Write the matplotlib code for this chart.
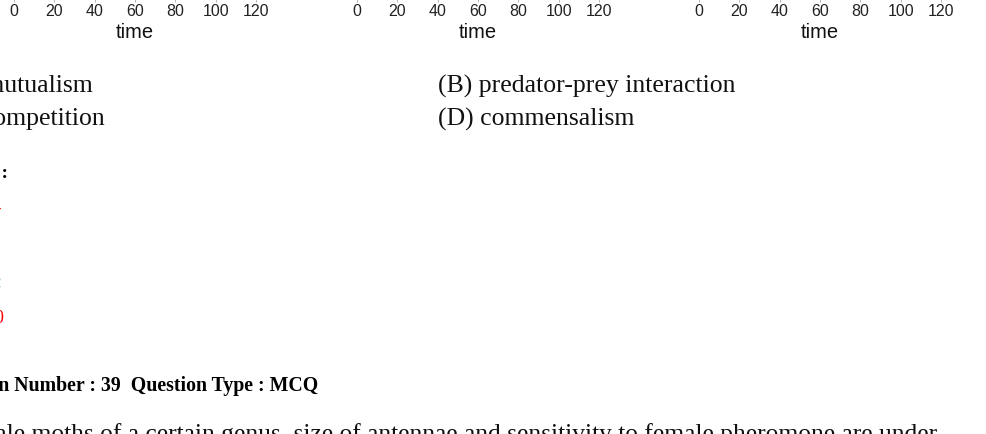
import matplotlib
matplotlib.use("Agg")
import matplotlib.pyplot as plt

# the three time-course panels (only their x axes show in this crop)
time_ticks = [0, 20, 40, 60, 80, 100, 120]
time_lim = (0, 120)
panel_left_px = [14, 357, 699]
panel_width_px = 242
xlabel = "time"

options_left = ["(A) mutualism", "(C) competition"]
options_right = ["(B) predator-prey interaction", "(D) commensalism"]
question_header = "Question Number : 39  Question Type : MCQ"
question_text = ("In male moths of a certain genus, size of antennae and sensitivity "
                 "to female pheromone are under")

W, H = 987, 435
fig = plt.figure(figsize=(W / 100, H / 100), dpi=100)


def fx(px):
    return px / W


def fy(py):
    return 1 - py / H


for left in panel_left_px:
    # axes sit just above the top edge, so only ticks and labels are visible
    ax = fig.add_axes([fx(left), fy(-1), fx(panel_width_px), 0.3])
    ax.set_xlim(*time_lim)
    ax.set_xticks(time_ticks)
    ax.set_yticks([])
    for s in ax.spines.values():
        s.set_visible(False)
    ax.tick_params(axis="x", length=3, width=0.6, color="#aaaaaa", pad=0.5,
                   labelsize=11.5, labelcolor="#222222")
    for lab in ax.get_xticklabels():
        lab.set_family("Liberation Sans")
    ax.set_xlabel(xlabel, fontsize=14.5, family="Liberation Sans",
                  color="#111111", labelpad=3)

serif = "Liberation Serif"
opt_size = 18.5

fig.text(fx(93), fy(93), options_left[0], ha="right", va="baseline",
         family=serif, fontsize=opt_size, color="#111111")
fig.text(fx(105), fy(126), options_left[1], ha="right", va="baseline",
         family=serif, fontsize=opt_size, color="#111111")
fig.text(fx(438), fy(93), options_right[0], ha="left", va="baseline",
         family=serif, fontsize=opt_size, color="#111111")
fig.text(fx(438), fy(126), options_right[1], ha="left", va="baseline",
         family=serif, fontsize=opt_size, color="#111111")

# clipped answer-key fragments at the left edge
fig.text(fx(8), fy(178), "Answer :", ha="right", va="baseline",
         family=serif, fontsize=14, weight="bold", color="black")
fig.text(fx(1), fy(214), "-", ha="right", va="baseline",
         family=serif, fontsize=14, color="red")
fig.text(fx(1.5), fy(288), ":", ha="right", va="baseline",
         family=serif, fontsize=16, color="#22aa22")
fig.text(fx(3), fy(323), "0", ha="right", va="baseline",
         family=serif, fontsize=13, color="red")

fig.text(fx(318), fy(391), question_header, ha="right", va="baseline",
         family=serif, fontsize=14.3, weight="bold", color="black")
fig.text(fx(937), fy(441), question_text, ha="right", va="baseline",
         family=serif, fontsize=18.4, color="#111111")

fig.savefig("out.png", dpi=100)
